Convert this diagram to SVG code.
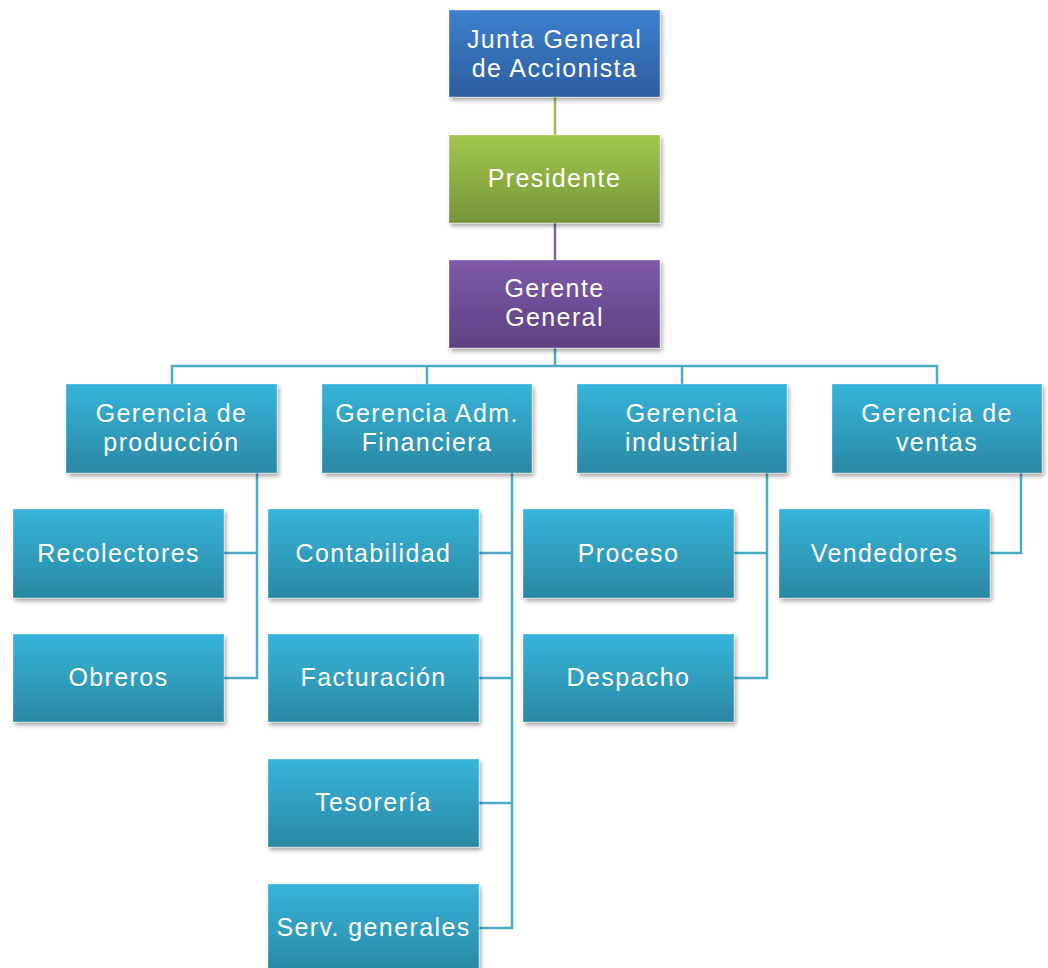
<svg xmlns="http://www.w3.org/2000/svg" width="1048" height="968" viewBox="0 0 1048 968">
<defs>
<linearGradient id="gBlue" x1="0" y1="0" x2="0" y2="1"><stop offset="0" stop-color="#3D80CF"/><stop offset="1" stop-color="#2C5E9F"/></linearGradient>
<linearGradient id="gGreen" x1="0" y1="0" x2="0" y2="1"><stop offset="0" stop-color="#A0C84A"/><stop offset="1" stop-color="#76943A"/></linearGradient>
<linearGradient id="gPurple" x1="0" y1="0" x2="0" y2="1"><stop offset="0" stop-color="#7D5AA9"/><stop offset="1" stop-color="#5E4182"/></linearGradient>
<linearGradient id="gTeal" x1="0" y1="0" x2="0" y2="1"><stop offset="0" stop-color="#36B4DA"/><stop offset="1" stop-color="#2A88A4"/></linearGradient>
<filter id="sh" x="-10%" y="-10%" width="125%" height="130%"><feDropShadow dx="2" dy="3" stdDeviation="2" flood-color="#000" flood-opacity="0.35"/></filter>
</defs>
<style>
.box{filter:url(#sh);stroke:#ffffff;stroke-opacity:0.35;stroke-width:1}
.t{font-family:"Liberation Sans",Arial,sans-serif;font-size:25px;letter-spacing:1.4px;fill:#ffffff;text-anchor:middle;dominant-baseline:central}
.c{fill:none;stroke:#4BACC6;stroke-width:2.5}
</style>
<rect width="1048" height="968" fill="#ffffff"/>
<g id="connectors">
<line x1="555" y1="97" x2="555" y2="135" stroke="#9BBB59" stroke-width="2.5"/>
<line x1="555" y1="223" x2="555" y2="260" stroke="#8064A2" stroke-width="2.5"/>
<path class="c" d="M555 348V366M172 384V366H937V384M427 366V384M682 366V384"/>
<path class="c" d="M257 473V678H224M224 553H257"/>
<path class="c" d="M512 473V928H479M479 553H512M479 678H512M479 803H512"/>
<path class="c" d="M767 473V678H734M734 553H767"/>
<path class="c" d="M1021 473V553H990"/>
</g>
<g id="n-junta"><rect class="box" x="449" y="10" width="211" height="87" fill="url(#gBlue)"/><text class="t" x="554.5" y="39">Junta General<tspan x="554.5" dy="29">de Accionista</tspan></text></g>
<g id="n-presidente"><rect class="box" x="449" y="135" width="211" height="88" fill="url(#gGreen)"/><text class="t" x="554.5" y="178">Presidente</text></g>
<g id="n-gerente"><rect class="box" x="449" y="260" width="211" height="88" fill="url(#gPurple)"/><text class="t" x="554.5" y="288">Gerente<tspan x="554.5" dy="29">General</tspan></text></g>
<g id="n-produccion"><rect class="box" x="66" y="384" width="211" height="89" fill="url(#gTeal)"/><text class="t" x="171.5" y="413">Gerencia de<tspan x="171.5" dy="29">producción</tspan></text></g>
<g id="n-financiera"><rect class="box" x="322" y="384" width="210" height="89" fill="url(#gTeal)"/><text class="t" x="427" y="413">Gerencia Adm.<tspan x="427" dy="29">Financiera</tspan></text></g>
<g id="n-industrial"><rect class="box" x="577" y="384" width="210" height="89" fill="url(#gTeal)"/><text class="t" x="682" y="413">Gerencia<tspan x="682" dy="29">industrial</tspan></text></g>
<g id="n-ventas"><rect class="box" x="832" y="384" width="210" height="89" fill="url(#gTeal)"/><text class="t" x="937" y="413">Gerencia de<tspan x="937" dy="29">ventas</tspan></text></g>
<g id="n-recolectores"><rect class="box" x="13" y="509" width="211" height="89" fill="url(#gTeal)"/><text class="t" x="118.5" y="553">Recolectores</text></g>
<g id="n-obreros"><rect class="box" x="13" y="634" width="211" height="88" fill="url(#gTeal)"/><text class="t" x="118.5" y="677">Obreros</text></g>
<g id="n-contabilidad"><rect class="box" x="268" y="509" width="211" height="89" fill="url(#gTeal)"/><text class="t" x="373.5" y="553">Contabilidad</text></g>
<g id="n-facturacion"><rect class="box" x="268" y="634" width="211" height="88" fill="url(#gTeal)"/><text class="t" x="373.5" y="677">Facturación</text></g>
<g id="n-tesoreria"><rect class="box" x="268" y="759" width="211" height="88" fill="url(#gTeal)"/><text class="t" x="373.5" y="802">Tesorería</text></g>
<g id="n-serv"><rect class="box" x="268" y="884" width="211" height="88" fill="url(#gTeal)"/><text class="t" x="373.5" y="927">Serv. generales</text></g>
<g id="n-proceso"><rect class="box" x="523" y="509" width="211" height="89" fill="url(#gTeal)"/><text class="t" x="628.5" y="553">Proceso</text></g>
<g id="n-despacho"><rect class="box" x="523" y="634" width="211" height="88" fill="url(#gTeal)"/><text class="t" x="628.5" y="677">Despacho</text></g>
<g id="n-vendedores"><rect class="box" x="779" y="509" width="211" height="89" fill="url(#gTeal)"/><text class="t" x="884.5" y="553">Vendedores</text></g>
</svg>
